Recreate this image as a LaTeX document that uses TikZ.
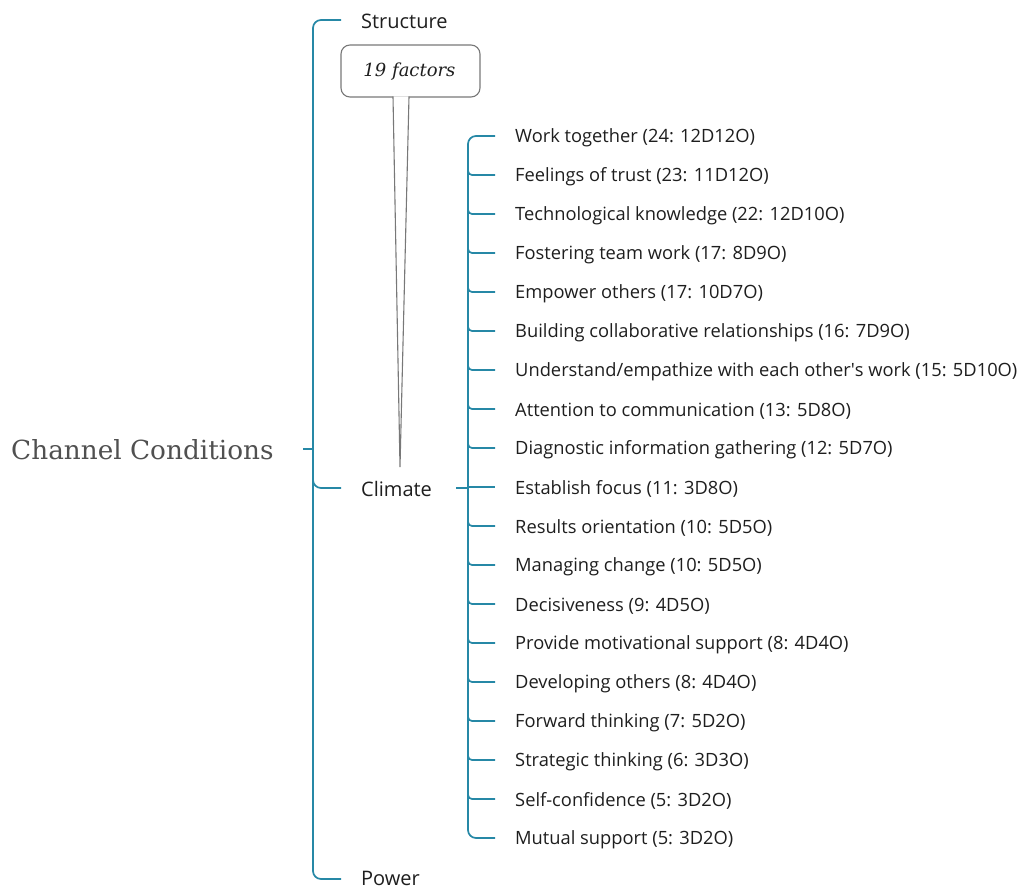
\documentclass[tikz,border=0pt]{standalone}
\usepackage{fontspec}
\setmainfont{Open Sans}
\newfontfamily\rootfont{DejaVu Serif}
\newfontfamily\notefont{DejaVu Serif}
\definecolor{branch}{RGB}{38,136,166}
\definecolor{ink}{RGB}{30,30,30}
\definecolor{rootink}{RGB}{80,80,80}
\definecolor{noteedge}{RGB}{120,120,120}
\begin{document}
\begin{tikzpicture}[x=1pt,y=-1pt,
  link/.style={draw=branch,line width=1.7pt,rounded corners=8pt},
  tick/.style={draw=branch,line width=1.7pt},
  leaf/.style={anchor=west,inner sep=0pt,font=\fontsize{18.3}{20}\selectfont,text=ink},
  topic/.style={anchor=west,inner sep=0pt,font=\fontsize{20}{22}\selectfont,text=ink}]
\useasboundingbox (0,0) rectangle (1022,890);

% root
\node[anchor=west,inner sep=0pt,font=\rootfont\fontsize{26.3}{30}\selectfont,text=rootink] (root) at (11,450) {Channel Conditions};

% main topics
\node[topic] (structure) at (361,21) {Structure};
\node[topic] (climate) at (361,489) {Climate};
\node[topic] (power) at (361,878.5) {Power};

\coordinate (rootTick) at (303,449);
\coordinate (rootBar) at (313,449);
\draw[tick] (rootTick) -- (rootBar);
\draw[link] (341,20) -| (313,449) |- (341,879);
\draw[link] (313,478) |- (341,488);

% climate factors
\foreach \i/\t in {
 1/{Work together (24: 12D12O)},
 2/{Feelings of trust (23: 11D12O)},
 3/{Technological knowledge (22: 12D10O)},
 4/{Fostering team work (17: 8D9O)},
 5/{Empower others (17: 10D7O)},
 6/{Building collaborative relationships (16: 7D9O)},
 7/{Understand/empathize with each other\textquotesingle s work (15: 5D10O)},
 8/{Attention to communication (13: 5D8O)},
 9/{Diagnostic information gathering (12: 5D7O)},
 10/{Establish focus (11: 3D8O)},
 11/{Results orientation (10: 5D5O)},
 12/{Managing change (10: 5D5O)},
 13/{Decisiveness (9: 4D5O)},
 14/{Provide motivational support (8: 4D4O)},
 15/{Developing others (8: 4D4O)},
 16/{Forward thinking (7: 5D2O)},
 17/{Strategic thinking (6: 3D3O)},
 18/{Self-confidence (5: 3D2O)},
 19/{Mutual support (5: 3D2O)}}{
  \pgfmathsetmacro{\yy}{138+(\i-1)*39}
  \node[leaf] (f\i) at (515,\yy) {\t};
}
\draw[tick] (456,488) -- (468,488);
\draw[link] (495,136) -| (468,488) |- (495,838);
\foreach \i in {2,...,9}{
  \pgfmathsetmacro{\yy}{136+(\i-1)*39}
  \draw[link,rounded corners=4pt] (468,\yy-7) |- (495,\yy);
}
\draw[tick] (468,487) -- (495,487);
\foreach \i in {11,...,18}{
  \pgfmathsetmacro{\yy}{136+(\i-1)*39}
  \draw[link,rounded corners=4pt] (468,\yy-7) |- (495,\yy);
}

% callout note
\coordinate (tip) at (400,467);
\draw[noteedge,line width=1.1pt,fill=white,rounded corners=9pt]
  (341,45) rectangle (480,97);
\draw[noteedge,line width=1.1pt,fill=white] (393,96.5) -- (tip) -- (409,96.5);
\node[font=\notefont\itshape\fontsize{18}{20}\selectfont,text=ink] (note) at (409.5,72) {19 factors};
\end{tikzpicture}
\end{document}
